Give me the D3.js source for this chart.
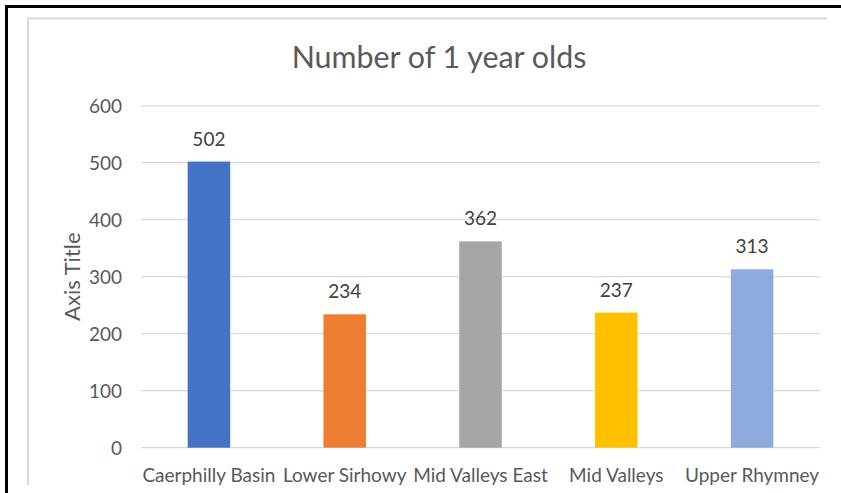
<!DOCTYPE html>
<html>
<head>
<meta charset="utf-8">
<script src="https://cdn.jsdelivr.net/npm/d3@7"></script>
<style>
  html, body { margin: 0; padding: 0; background: #fff; }
  svg { display: block; }
  text { font-family: Lato, "Liberation Sans", sans-serif; }
</style>
</head>
<body>
<svg id="chart" width="841" height="493"></svg>
<script>
const chartTitle = "Number of 1 year olds";
const yAxisTitle = "Axis Title";
const categories = ["Caerphilly Basin", "Lower Sirhowy", "Mid Valleys East", "Mid Valleys", "Upper Rhymney"];
const values = [502, 234, 362, 237, 313];
const barColors = ["#4472C4", "#ED7D31", "#A5A5A5", "#FFC000", "#8FAADC"];
const yTicks = [0, 100, 200, 300, 400, 500, 600];

const svg = d3.select("#chart");

// outer black frame (top & left)
svg.append("line").attr("x1", 6.5).attr("x2", 841).attr("y1", 6.5).attr("y2", 6.5)
  .attr("stroke", "#000").attr("stroke-width", 3);
svg.append("line").attr("x1", 6.5).attr("x2", 6.5).attr("y1", 5).attr("y2", 493)
  .attr("stroke", "#000").attr("stroke-width", 3);

// chart area frame (light gray)
svg.append("path").attr("d", "M28,485 V18.5 H827")
  .attr("fill", "none").attr("stroke", "#D9D9D9").attr("stroke-width", 2);

const plot = { left: 141, right: 820, top: 105.7, bottom: 447.7 };

const x = d3.scaleBand().domain(categories).range([plot.left, plot.right])
  .paddingInner(0.687).paddingOuter(0.3435);
const y = d3.scaleLinear().domain([0, 600]).range([plot.bottom, plot.top]);

// gridlines
svg.append("g").selectAll("line").data(yTicks).join("line")
  .attr("x1", plot.left).attr("x2", plot.right)
  .attr("y1", d => y(d)).attr("y2", d => y(d))
  .attr("stroke", "#D9D9D9").attr("stroke-width", 1.3);

// y tick labels
svg.append("g").selectAll("text").data(yTicks).join("text")
  .attr("x", 122).attr("y", d => y(d) + 6.8)
  .attr("text-anchor", "end").attr("font-size", 19).attr("fill", "#595959")
  .text(d => d);

// bars
svg.append("g").selectAll("rect").data(values).join("rect")
  .attr("x", (d, i) => x(categories[i]))
  .attr("width", x.bandwidth())
  .attr("y", d => y(d))
  .attr("height", d => y(0) - y(d))
  .attr("fill", (d, i) => barColors[i]);

// data labels
svg.append("g").selectAll("text").data(values).join("text")
  .attr("x", (d, i) => x(categories[i]) + x.bandwidth() / 2)
  .attr("y", d => y(d) - 16)
  .attr("text-anchor", "middle").attr("font-size", 19).attr("fill", "#404040")
  .text(d => d);

// category labels
svg.append("g").selectAll("text").data(categories).join("text")
  .attr("x", d => x(d) + x.bandwidth() / 2)
  .attr("y", 481.7)
  .attr("text-anchor", "middle").attr("font-size", 19).attr("fill", "#595959")
  .text(d => d);

// title
svg.append("text").attr("x", 439).attr("y", 68)
  .attr("text-anchor", "middle").attr("font-size", 30.4).attr("fill", "#595959")
  .text(chartTitle);

// axis title
svg.append("text").attr("transform", `translate(80,${(plot.top + plot.bottom) / 2}) rotate(-90)`)
  .attr("text-anchor", "middle").attr("font-size", 22).attr("fill", "#595959")
  .text(yAxisTitle);
</script>
</body>
</html>
